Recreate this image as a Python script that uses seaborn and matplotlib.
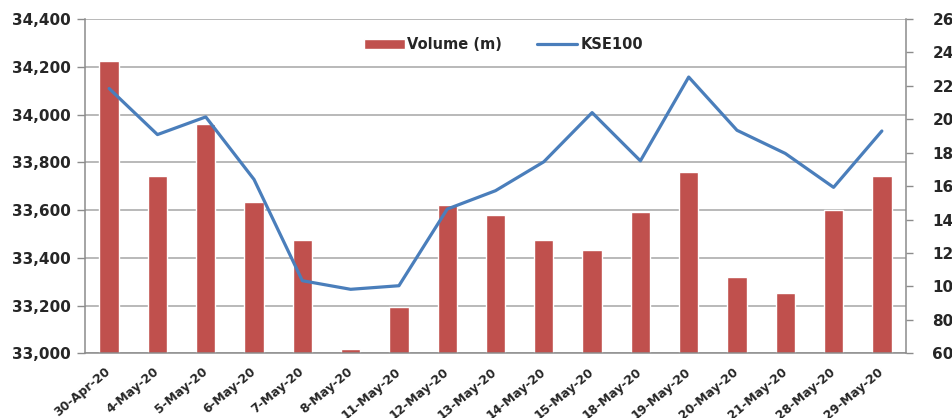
import matplotlib
matplotlib.use("Agg")
import matplotlib.pyplot as plt
import matplotlib.transforms as mtransforms
from matplotlib.lines import Line2D
from matplotlib.patches import Patch
from matplotlib.ticker import FuncFormatter, MultipleLocator
import seaborn as sns
import pandas as pd

# data
dates = ["30-Apr-20", "4-May-20", "5-May-20", "6-May-20", "7-May-20", "8-May-20",
         "11-May-20", "12-May-20", "13-May-20", "14-May-20", "15-May-20", "18-May-20",
         "19-May-20", "20-May-20", "21-May-20", "28-May-20", "29-May-20"]
volume = [235, 166, 197, 150.5, 128, 62.6, 87.5, 148.7, 142.5, 127.8, 122, 144.3,
          168.3, 105.6, 95.9, 146, 166]
kse100 = [34109, 33916, 33990, 33728, 33304, 33268, 33283, 33604, 33681, 33802,
          34008, 33806, 34157, 33934, 33837, 33695, 33931]

df = pd.DataFrame({"date": dates, "volume": volume, "kse100": kse100})

sns.set_style("white")
plt.rcParams["font.family"] = ["DejaVu Sans"]
plt.rcParams["font.weight"] = "bold"

bar_color = "#C0504D"
line_color = "#4A7EBB"
axis_grey = "#8C8C8C"
grid_grey = "#A6A6A6"

fig = plt.figure(figsize=(9.53, 4.18), dpi=100)
ax = fig.add_axes([0.0892, 0.1548, 0.8615, 0.7997])

# bars on the primary axes (scale shown on the right)
sns.barplot(data=df, x="date", y="volume", color=bar_color, width=0.4,
            saturation=1, ax=ax, zorder=2)
ax.set_ylim(60, 260)
ax.set_xlim(-0.5, len(dates) - 0.5)

# line on the twin axes (scale shown on the left)
ax2 = ax.twinx()
sns.lineplot(data=df, x="date", y="kse100", color=line_color, linewidth=2.3,
             ax=ax2, sort=False)
ax2.set_ylim(33000, 34400)
ax2.yaxis.set_major_locator(MultipleLocator(200))

# move tick sides: kse100 left, volume right
ax.yaxis.tick_right()
ax.yaxis.set_label_position("right")
ax2.yaxis.tick_left()
ax2.yaxis.set_label_position("left")
ax.yaxis.set_major_locator(MultipleLocator(20))

# gridlines for the left scale, drawn behind the bars
blend = mtransforms.blended_transform_factory(ax.transAxes, ax2.transData)
for v in range(33000, 34401, 200):
    ax.plot([0, 1], [v, v], transform=blend, color=grid_grey, lw=1.1, zorder=0)

ax2.yaxis.set_major_formatter(FuncFormatter(lambda v, p: f"{int(v):,}"))

for a in (ax, ax2):
    for s in a.spines.values():
        s.set_visible(False)
    a.set_xlabel("")
    a.set_ylabel("")
for s in ("left", "right", "bottom"):
    ax2.spines[s].set_visible(True)
    ax2.spines[s].set_color(axis_grey)
    ax2.spines[s].set_linewidth(1.1)

ax.tick_params(axis="y", which="both", length=5, width=1, color=axis_grey,
               labelsize=11, pad=14, direction="out")
ax2.tick_params(axis="y", length=6, width=1, color=axis_grey, labelsize=11,
                pad=4, direction="out")
for lbl in ax.get_yticklabels() + ax2.get_yticklabels():
    lbl.set_fontweight("bold")

# category ticks between bars, labels at bar centres
ax.set_xticks(range(len(dates)))
ax.set_xticklabels(dates, rotation=40, ha="right", va="center",
                   rotation_mode="anchor", fontsize=8.8, fontweight="bold")
offset = mtransforms.ScaledTranslation(4 / 100, 0, fig.dpi_scale_trans)
for lbl in ax.get_xticklabels():
    lbl.set_transform(lbl.get_transform() + offset)
ax.set_xticks([i - 0.5 for i in range(len(dates) + 1)], minor=True)
ax.tick_params(axis="x", which="major", length=0, pad=12)
ax.tick_params(axis="x", which="minor", length=5, width=1, color=axis_grey,
               direction="out")
ax2.tick_params(axis="x", which="both", bottom=False, labelbottom=False)

handles = [Patch(facecolor=bar_color, label="Volume (m)"),
           Line2D([0], [0], color=line_color, lw=2.3, label="KSE100")]
ax2.legend(handles=handles, loc="upper center", bbox_to_anchor=(0.51, 0.985),
           ncol=2, frameon=False, prop={"weight": "bold", "size": 10.5},
           handlelength=2.75, columnspacing=2.4, handletextpad=0.2)

fig.savefig("out.png", dpi=100)
